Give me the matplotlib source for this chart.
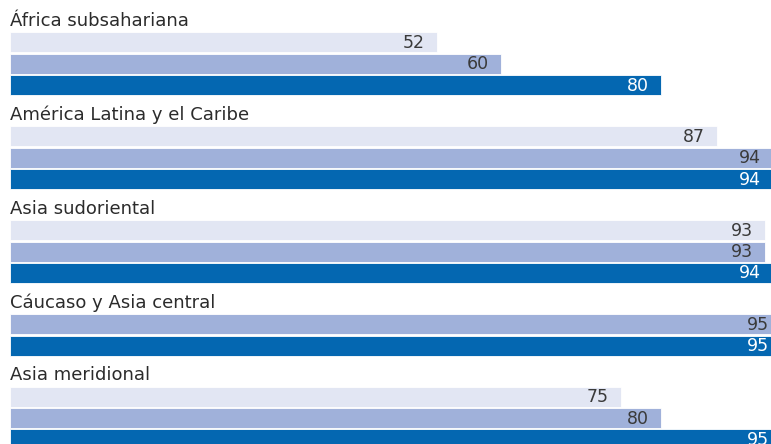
import matplotlib.pyplot as plt

# Datos: porcentajes por región y serie
regiones = ["África subsahariana", "América Latina y el Caribe", "Asia sudoriental",
            "Cáucaso y Asia central", "Asia meridional"]
serie_1 = [52, 87, 93, None, 75]
serie_2 = [60, 94, 93, 95, 80]
serie_3 = [80, 94, 94, 95, 95]

colores = ["#e2e6f3", "#a0b1da", "#0467b1"]
color_texto = ["#3a3a3a", "#3a3a3a", "#ffffff"]

W, H = 771, 444
fig = plt.figure(figsize=(W / 100, H / 100), dpi=100)
ax = fig.add_axes([10 / W, 0, 1 - 10 / W, 1])
x0, x1 = -1.3, 93.8
ax.set_xlim(x0, x1)
ax.set_ylim(H, 0)
ax.axis("off")

paso = 21.3      # distancia entre barras
alto = 20        # alto de cada barra
hueco = 30       # espacio entre grupos
y = 32.5
for i, region in enumerate(regiones):
    ax.text(0, y - 6.5, region, transform=ax.get_yaxis_transform(), fontsize=13,
            color="#2b2b2b", va="baseline", ha="left")
    valores = [serie_1[i], serie_2[i], serie_3[i]]
    for j, v in enumerate(valores):
        if v is None:
            continue
        ax.barh(y + alto / 2, v - x0, left=x0, height=alto, color=colores[j],
                edgecolor="white", linewidth=0.6)
        ax.text(v - 1.5, y + alto / 2 + 0.5, str(v), ha="right", va="center",
                fontsize=12.5, color=color_texto[j])
        y += paso
    y += hueco

fig.savefig("out.png", dpi=100)
